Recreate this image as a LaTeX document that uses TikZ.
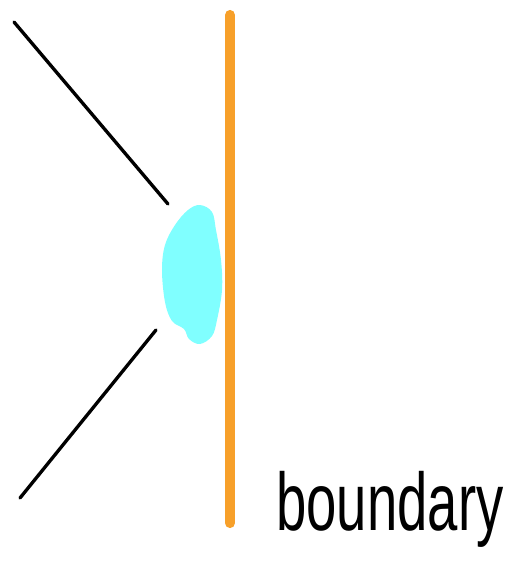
\documentclass[tikz,border=0pt]{standalone}
\usepackage{fontspec}
\setmainfont{Liberation Sans}
\usepackage{tikz}
\usetikzlibrary{calc}
\usepackage{xcolor}
\definecolor{WallOrange}{RGB}{247,160,42}
\definecolor{BlobCyan}{RGB}{128,255,255}
\tikzset{
  wall/.style={line width=5.8pt, color=WallOrange, line cap=round},
  ray/.style={line width=1.9pt, color=black, line cap=round},
  blob/.style={fill=BlobCyan, draw=none},
  label/.style={anchor=base west, inner sep=0pt, font=\fontsize{31}{36}\selectfont}
}
\begin{document}
\begin{tikzpicture}[x=0.02cm, y=-0.02cm]
  \useasboundingbox (0,0) rectangle (512,566);

  % Boundary line
  \coordinate (wtop) at (230,15);
  \coordinate (wbot) at (230,523);
  \draw[wall] (wtop) -- (wbot);

  % Incoming and outgoing rays
  \coordinate (inA) at (14,22);
  \coordinate (inB) at (168,204);
  \coordinate (outA) at (156,330);
  \coordinate (outB) at (20,498);
  \draw[ray] (inA) -- (inB);
  \draw[ray] (outA) -- (outB);

  % Contact spot
  \fill[blob] plot[smooth cycle, tension=0.6] coordinates {
    (200,205) (212,212) (216,230) (221,260) (222,290) (217,320)
    (212,336) (200,344) (189,339) (184,329) (172,321) (165,302)
    (162,270) (165,245) (175,225) (188,210)};

  % Label
  \node[label] (lbl) at (276,530) {\scalebox{1}[1.5]{boundary}};
\end{tikzpicture}
\end{document}
